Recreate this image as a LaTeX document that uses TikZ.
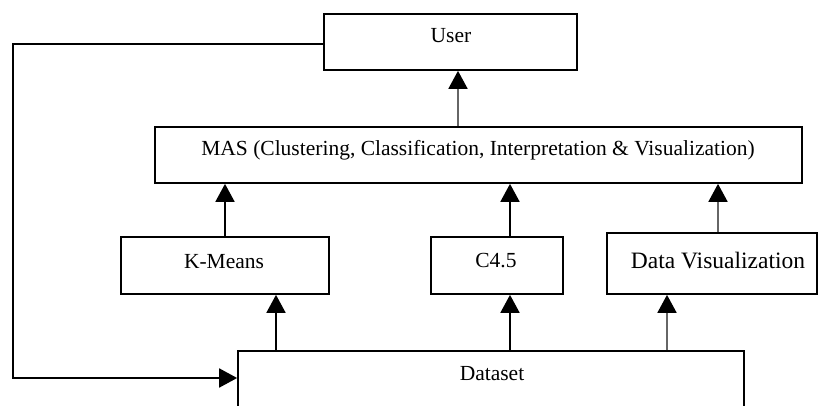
\documentclass[tikz,border=0pt]{standalone}
\usepackage{fontspec}
\setmainfont{Liberation Serif}
\usetikzlibrary{arrows.meta,calc}

\begin{document}
\begin{tikzpicture}[x=1pt,y=-1pt,
  box/.style={draw=black, line width=1.7pt, rectangle, inner sep=0pt, fill=none},
  lbl/.style={inner sep=0pt, anchor=base, font=\fontsize{21.5}{26}\selectfont},
  arr/.style={line width=1.8pt, draw=black, -{Triangle[length=18pt,width=19pt,color=black]}},
  garr/.style={arr, draw=black!60}
]
\useasboundingbox (0,0) rectangle (818,406);

% boxes
\node[box, minimum width=253pt, minimum height=56pt] (user) at (450.5,42) {};
\node[box, minimum width=647pt, minimum height=56pt] (mas)  at (478.5,155) {};
\node[box, minimum width=208pt, minimum height=57pt] (km)   at (225,265.5) {};
\node[box, minimum width=132pt, minimum height=57pt] (c45)  at (497,265.5) {};
\node[box, minimum width=210pt, minimum height=61pt] (dv)   at (712,263.5) {};
\node[box, minimum width=506pt, minimum height=64pt] (ds)   at (491,383) {};

% labels
\node[lbl] (usert) at (451,43)  {User};
\node[lbl] (mast)  at (478,156) {MAS (Clustering, Classification, Interpretation \& Visualization)};
\node[lbl] (kmt)   at (224,268) {K-Means};
\node[lbl] (c45t)  at (496,267) {C4.5};
\node[lbl, font=\fontsize{23.5}{28}\selectfont] (dvt) at (718,268) {Data Visualization};
\node[lbl] (dst)   at (492,380) {Dataset};

% upward flow
\draw[garr] ([xshift=7.5pt]user.south |- mas.north) -- ([xshift=7.5pt]user.south);
\draw[arr]  (km.north) -- (km.north |- mas.south);
\draw[arr]  ([xshift=13pt]c45.north) -- ([xshift=13pt]c45.north |- mas.south);
\draw[garr] ([xshift=6pt]dv.north) -- ([xshift=6pt]dv.north |- mas.south);
\draw[arr]  ([xshift=51pt]km.south |- ds.north) -- ([xshift=51pt]km.south);
\draw[arr]  ([xshift=13pt]c45.south |- ds.north) -- ([xshift=13pt]c45.south);
\draw[garr] ([xshift=-45pt]dv.south |- ds.north) -- ([xshift=-45pt]dv.south);

% feedback loop from the user back to the dataset
\draw[arr] ([yshift=-2pt]user.west) -- ++(-310,0) |- ([yshift=5pt]ds.west);
\end{tikzpicture}
\end{document}
